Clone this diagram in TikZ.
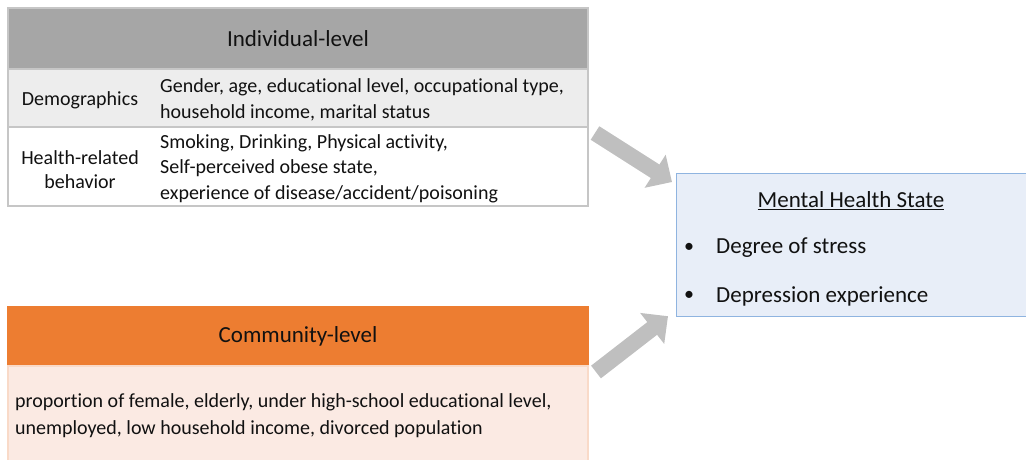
\documentclass[tikz,border=0pt]{standalone}
\usepackage{fontspec}
\setmainfont{Carlito}[RawFeature={-liga;-clig;-calt;-dlig}]
\usetikzlibrary{arrows.meta, positioning}

\definecolor{headgray}{HTML}{A6A6A6}
\definecolor{rowgray}{HTML}{EDEDED}
\definecolor{linegray}{HTML}{C6C6C6}
\definecolor{headorange}{HTML}{ED7D31}
\definecolor{bodypink}{HTML}{FBEAE3}
\definecolor{stateblue}{HTML}{E8EEF8}
\definecolor{stateline}{HTML}{8FB4E0}
\definecolor{arrowgray}{HTML}{BFBFBF}
\definecolor{txt}{HTML}{111111}

\begin{document}
\begin{tikzpicture}[x=1pt, y=-1pt,
		band/.style = {rectangle, draw=linegray, line width=1.2pt, minimum width=580pt, inner sep=0pt, outer sep=0pt, text=txt},
		head/.style = {band, font=\fontsize{23}{27}\selectfont},
		label/.style = {align=center, text=txt, font=\fontsize{20}{24}\selectfont},
		items/.style = {anchor=west, align=left, text=txt, inner sep=0pt, font=\fontsize{20}{25.5}\selectfont},
		bigitem/.style = {items, font=\fontsize{23}{28}\selectfont},
		feed/.style = {line width=16pt, arrowgray, -{Triangle[length=20pt, width=38pt]}}
	]
	\useasboundingbox (0,0) rectangle (1026,460);

	% individual-level table
	\node[head, fill=headgray, minimum height=61pt] (indhead) at (298,38.5) {\raisebox{-3pt}{Individual-level}};
	\node[band, fill=rowgray, minimum height=58pt, below=0pt of indhead] (demorow) {};
	\node[band, fill=white, minimum height=79pt, below=0pt of demorow] (behavrow) {};

	\node[label] (demolabel) at (80,100) {Demographics};
	\node[items] (demoitems) at (160,100) {Gender, age, educational level, occupational type,\\household income, marital status};
	\node[label] (behavlabel) at (80,170) {Health-related\\behavior};
	\node[items] (behavitems) at (160,168.5) {Smoking, Drinking, Physical activity,\\Self-perceived obese state,\\experience of disease/accident/poisoning};

	% community-level table
	\node[head, fill=headorange, draw=headorange, minimum height=59pt] (comhead) at (298,336.5) {\raisebox{-2pt}{Community-level}};
	\node[band, fill=bodypink, draw=bodypink!85!headorange, minimum height=100pt, below=0pt of comhead] (combody) {};
	\node[items, font=\fontsize{20}{26.5}\selectfont] (comitems) at (15,415.5) {proportion of female, elderly, under high-school educational level,\\unemployed, low household income, divorced population};

	% outcome
	\node[rectangle, draw=stateline, fill=stateblue, line width=1.2pt, minimum width=380pt, minimum height=143pt, anchor=north west] (state) at (676,173) {};
	\node[text=txt, font=\fontsize{23}{28}\selectfont] (statetitle) at (851,200.5) {\underline{Mental Health State}};
	\node[text=txt, font=\fontsize{20}{24}\selectfont] (stressdot) at (689,248) {\textbullet};
	\node[bigitem] (stress) at (716,248) {Degree of stress};
	\node[text=txt, font=\fontsize{20}{24}\selectfont] (depressdot) at (689,296) {\textbullet};
	\node[bigitem] (depress) at (716,296) {Depression experience};

	\coordinate (indtail) at (595,133);
	\coordinate (comtail) at (596,372);
	\draw[feed] (indtail) -- ([xshift=-4pt, yshift=-9pt]state.north west);
	\draw[feed] (comtail) -- ([xshift=-8pt, yshift=1pt]state.south west);
\end{tikzpicture}
\end{document}
